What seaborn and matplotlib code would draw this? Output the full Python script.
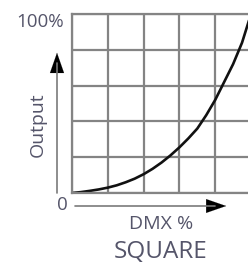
import matplotlib
matplotlib.use("Agg")
import matplotlib.pyplot as plt
from matplotlib.lines import Line2D
import seaborn as sns
import pandas as pd

# curve (DMX % -> output %)
dmx = [0, 5, 10, 15, 20, 25, 30, 35, 40, 45, 50, 55, 60, 65, 70, 75, 80, 85, 90, 95, 100]
output = [0, 0.5, 1.2, 2, 3, 4.3, 6, 8, 10.5, 13.5, 17, 21, 25.5, 30.5, 36, 43.5, 52, 62, 72, 84, 100]
grid_ticks = [0, 20, 40, 60, 80, 100]
title = "SQUARE"
x_label = "DMX %"
y_label = "Output"
y_top_label = "100%"
zero_label = "0"

grid_color = "#848484"
text_color = "#55556a"

sns.set_style("white", {"axes.edgecolor": grid_color})
plt.rcParams["font.family"] = ["Open Sans", "DejaVu Sans"]

W, H = 248, 270
fig = plt.figure(figsize=(W / 100, H / 100), dpi=100)
ax = fig.add_axes([72 / W, 77 / H, 179 / W, 179 / H])

df = pd.DataFrame({"dmx": dmx, "output": output})
sns.lineplot(data=df, x="dmx", y="output", ax=ax, color="#111111", linewidth=1.9)

ax.set_xlim(0, 100)
ax.set_ylim(0, 100)
ax.set_xticks(grid_ticks)
ax.set_yticks(grid_ticks)
ax.grid(True, color=grid_color, linewidth=1.6)
ax.tick_params(length=0, labelbottom=False, labelleft=False)
ax.set_xlabel("")
ax.set_ylabel("")
for sp in ax.spines.values():
    sp.set_color(grid_color)
    sp.set_linewidth(1.6)

# axis arrows (figure pixels)
fig.add_artist(Line2D([57 / W, 57 / W], [77 / H, 207 / H], color="#7a7a7a", lw=1.2))
ax.annotate("", xy=(57, 220), xytext=(57, 205), xycoords="figure pixels",
            textcoords="figure pixels",
            arrowprops=dict(arrowstyle="-|>,head_length=1.2,head_width=0.42",
                            color="black", lw=0.1, mutation_scale=12))
fig.add_artist(Line2D([75 / W, 215 / W], [64 / H, 64 / H], color="#7a7a7a", lw=1.2))
ax.annotate("", xy=(229, 64), xytext=(213, 64), xycoords="figure pixels",
            textcoords="figure pixels",
            arrowprops=dict(arrowstyle="-|>,head_length=1.3,head_width=0.45",
                            color="black", lw=0.1, mutation_scale=11))

fig.text(64 / W, 248 / H, y_top_label, ha="right", va="center", fontsize=13.5, color=text_color)
fig.text(62 / W, 65 / H, zero_label, ha="center", va="center", fontsize=13.5, color=text_color)
fig.text(38 / W, 145 / H, y_label, ha="center", va="center", rotation=90, fontsize=14, color=text_color)
fig.text(161 / W, 46 / H, x_label, ha="center", va="center", fontsize=14, color=text_color)
fig.text(161 / W, 18 / H, title, ha="center", va="center", fontsize=17.5, color=text_color)

fig.savefig("out.png", dpi=100)
